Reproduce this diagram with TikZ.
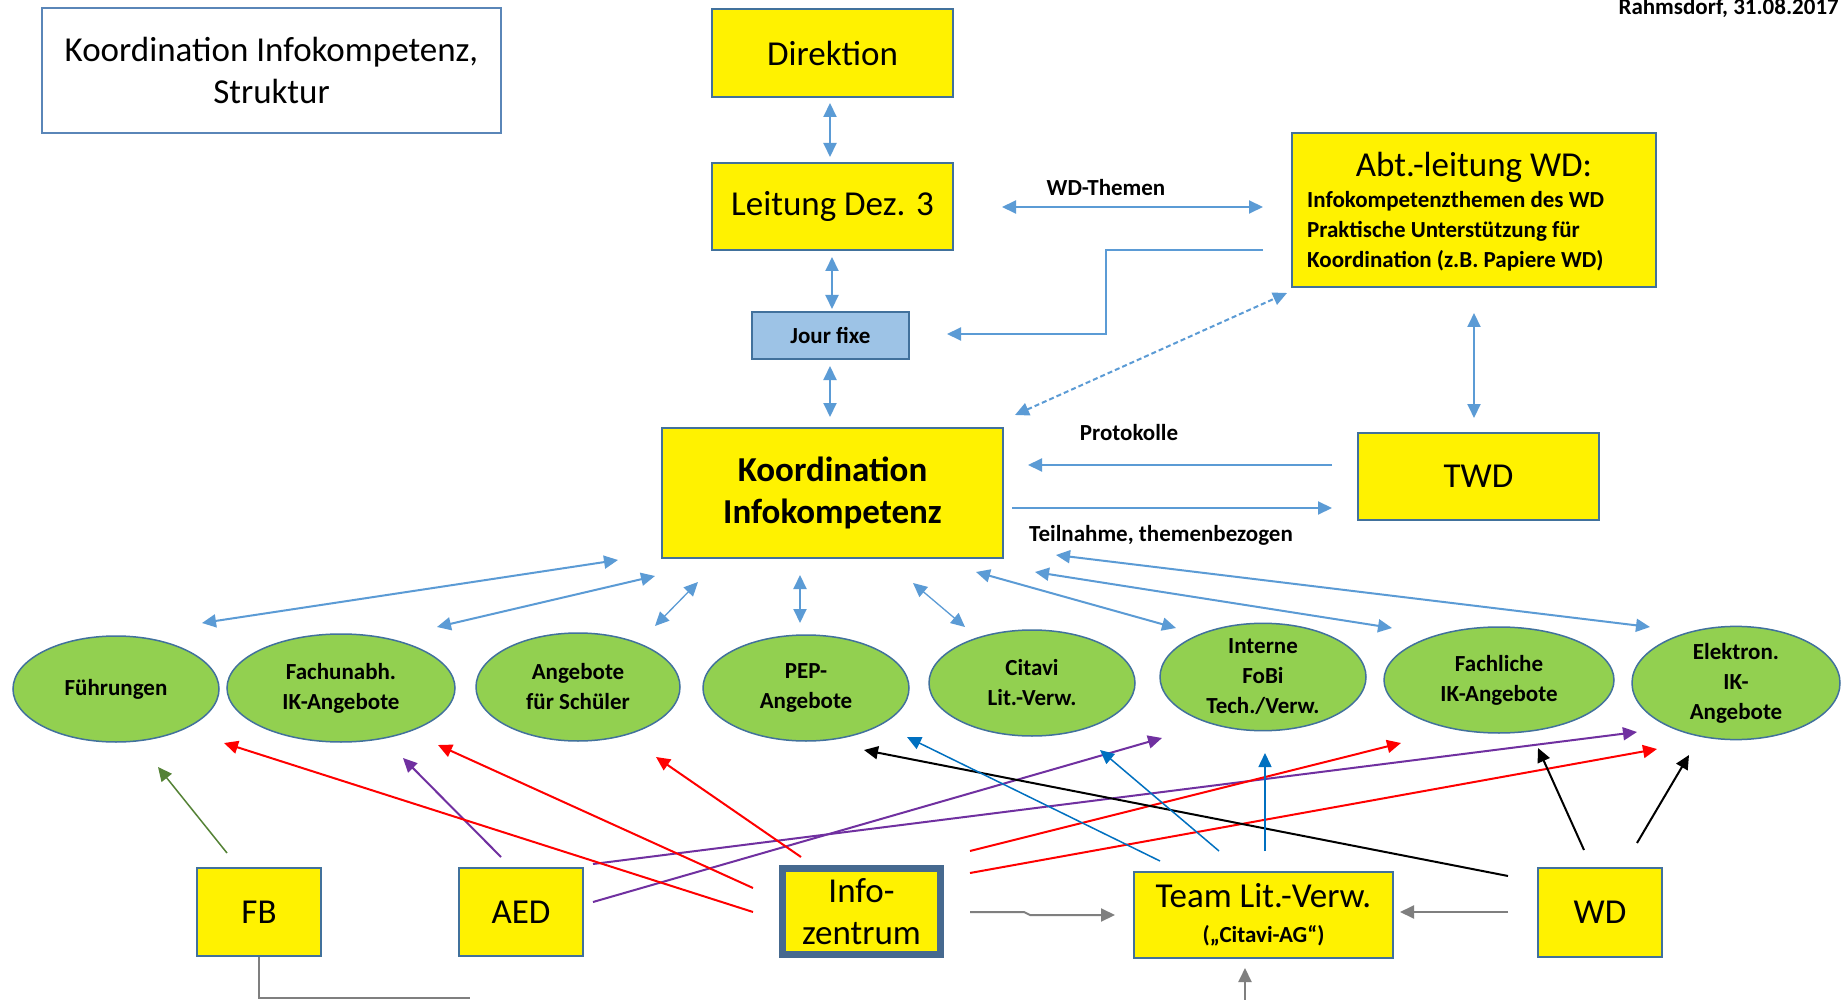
\documentclass[tikz,border=0pt]{standalone}
\usepackage{fontspec}
\setmainfont{Carlito}
\usetikzlibrary{arrows.meta,shapes.geometric}
\newcommand{\BigTxt}{\fontsize{35}{42}\selectfont}
\newcommand{\SmallTxt}{\fontsize{23}{30}\selectfont\bfseries}
\definecolor{bordc}{HTML}{41719C}
\definecolor{titlebord}{HTML}{5A86B8}
\definecolor{infobord}{HTML}{46698F}
\definecolor{jourfill}{HTML}{9DC3E6}
\definecolor{leaf}{HTML}{92D050}
\definecolor{arrblue}{HTML}{5B9BD5}
\definecolor{darkblue}{HTML}{0070C0}
\definecolor{arrred}{HTML}{FF0000}
\definecolor{arrpurple}{HTML}{7030A0}
\definecolor{arrgreen}{HTML}{548235}
\definecolor{arrgray}{HTML}{7F7F7F}
\begin{document}
\begin{tikzpicture}[x=1pt,y=-1pt,
  >={Triangle[length=14pt,width=13pt]},
  ybox/.style={draw=bordc, fill=yellow, line width=1.5pt, inner sep=0pt, align=center, font=\BigTxt},
  oval/.style={ellipse, draw=bordc, fill=leaf, line width=1.5pt, inner sep=0pt, align=center, font=\SmallTxt},
  lbl/.style={font=\SmallTxt, inner sep=0pt},
  bl/.style={draw=arrblue, line width=2pt},
  blt/.style={draw=arrblue, line width=1.3pt},
  dbl/.style={draw=darkblue, line width=1.5pt},
  rd/.style={draw=arrred, line width=2pt},
  pu/.style={draw=arrpurple, line width=2pt},
  bk/.style={draw=black, line width=2pt},
  gn/.style={draw=arrgreen, line width=1.5pt},
  gy/.style={draw=arrgray, line width=2pt}
]
\useasboundingbox (0,0) rectangle (1848,1000);
\fill[white] (0,0) rectangle (1848,1000);

% top boxes
\node[draw=titlebord, fill=white, line width=1.5pt, inner sep=0pt, align=center, font=\BigTxt,
      minimum width=459pt, minimum height=125pt] (title) at (271.5,70.5)
      {Koordination Infokompetenz,\\Struktur};
\node[ybox, minimum width=241pt, minimum height=88pt] (dir) at (832.5,53) {Direktion};
\node[ybox, minimum width=241pt, minimum height=87pt] (lei) at (832.5,206.5) {Leitung Dez. 3};
\node[draw=bordc, fill=jourfill, line width=1.5pt, inner sep=0pt, font=\SmallTxt,
      minimum width=157pt, minimum height=47pt] (jour) at (830.5,335.5) {Jour fixe};
\node[ybox, minimum width=364pt, minimum height=154pt] (abt) at (1474,210) {};
\node[font=\BigTxt, inner sep=0pt] (abtt) at (1474,167) {Abt.-leitung WD:};
\node[lbl, align=left, anchor=west] (abtb) at (1307,231)
      {Infokompetenzthemen des WD\\Praktische Unterstützung für\\Koordination (z.B. Papiere WD)};
\node[ybox, font=\BigTxt\bfseries, minimum width=341pt, minimum height=130pt] (koord) at (832.5,493)
      {Koordination\\Infokompetenz};
\node[ybox, minimum width=241pt, minimum height=87pt] (twd) at (1478.5,476.5) {TWD};
\node[lbl, anchor=base east] (date) at (1839,15) {Rahmsdorf, 31.08.2017};

% labels
\node[lbl] (wdth) at (1106,188) {WD-Themen};
\node[lbl] (prot) at (1129,433) {Protokolle};
\node[lbl] (teil) at (1161,535) {Teilnahme, themenbezogen};

% ellipses
\node[oval, minimum width=206pt, minimum height=106pt] (fueh) at (116,689) {Führungen};
\node[oval, minimum width=228pt, minimum height=108pt] (fach) at (341,688) {Fachunabh.\\IK-Angebote};
\node[oval, minimum width=204pt, minimum height=108pt] (schu) at (578,687) {Angebote\\für Schüler};
\node[oval, minimum width=206pt, minimum height=106pt] (pep) at (806,688) {PEP-\\Angebote};
\node[oval, minimum width=206pt, minimum height=106pt] (cit) at (1032,683) {Citavi\\Lit.-Verw.};
\node[oval, minimum width=206pt, minimum height=104pt] (intf) at (1263,677) {Interne\\FoBi\\Tech./Verw.};
\node[oval, minimum width=230pt, minimum height=106pt] (fachl) at (1499,680) {Fachliche\\IK-Angebote};
\node[oval, minimum width=208pt, minimum height=106pt] (elek) at (1736,683) {Elektron.\\IK-\\Angebote};

% bottom boxes
\node[ybox, minimum width=124pt, minimum height=88pt] (fb) at (259,912) {FB};
\node[ybox, minimum width=124pt, minimum height=88pt] (aed) at (521,912) {AED};
\node[draw=infobord, fill=yellow, line width=7pt, inner sep=0pt, align=center, font=\BigTxt,
      minimum width=158pt, minimum height=86pt] (info) at (861.5,911.5) {Info-\\zentrum};
\node[ybox, minimum width=259pt, minimum height=86pt] (team) at (1263.5,915)
      {Team Lit.-Verw.\\[-7pt]{\SmallTxt(„Citavi-AG“)}};
\node[ybox, minimum width=124pt, minimum height=89pt] (wd) at (1600,912.5) {WD};

% free ends
\coordinate (c1a) at (830,103); \coordinate (c1b) at (830,157);
\coordinate (c2a) at (832,257); \coordinate (c2b) at (832,309);
\coordinate (c3a) at (830,366); \coordinate (c3b) at (830,417);
\coordinate (wta) at (1002,207); \coordinate (wtb) at (1263,207);
\coordinate (ela) at (1263,250); \coordinate (elb) at (1106,250); \coordinate (elc) at (1106,334); \coordinate (eld) at (947,334);
\coordinate (dsa) at (1015,415); \coordinate (dsb) at (1287,293);
\coordinate (twa) at (1474,313); \coordinate (twb) at (1474,418);
\coordinate (pra) at (1332,465); \coordinate (prb) at (1028,465);
\coordinate (tea) at (1012,508); \coordinate (teb) at (1332,508);
\coordinate (k1) at (618,560); \coordinate (e1) at (202,623);
\coordinate (k2) at (655,576); \coordinate (e2) at (437,627);
\coordinate (k3) at (698,582); \coordinate (e3) at (655,626);
\coordinate (k4) at (800,575); \coordinate (e4) at (800,623);
\coordinate (k5) at (913,583); \coordinate (e5) at (965,627);
\coordinate (k6) at (976,572); \coordinate (e6) at (1176,628);
\coordinate (k7) at (1035,572); \coordinate (e7) at (1392,628);
\coordinate (k8) at (1056,555); \coordinate (e8) at (1650,627);

% blue connectors top
\draw[bl,<->] (c1a) -- (c1b);
\draw[bl,<->] (c2a) -- (c2b);
\draw[bl,<->] (c3a) -- (c3b);
\draw[bl,<->] (wta) -- (wtb);
\draw[bl,->] (ela) -- (elb) -- (elc) -- (eld);
\draw[bl,<->,dash pattern=on 5pt off 3pt] (dsa) -- (dsb);
\draw[bl,<->] (twa) -- (twb);
\draw[bl,->] (pra) -- (prb);
\draw[bl,->] (tea) -- (teb);

% koordination to ellipses
\draw[bl,<->] (k1) -- (e1);
\draw[bl,<->] (k2) -- (e2);
\draw[blt,<->] (k3) -- (e3);
\draw[bl,<->] (k4) -- (e4);
\draw[blt,<->] (k5) -- (e5);
\draw[bl,<->] (k6) -- (e6);
\draw[bl,<->] (k7) -- (e7);
\draw[bl,<->] (k8) -- (e8);

% bottom free ends
\coordinate (g1) at (227,853); \coordinate (g2) at (158,767);
\coordinate (p1a) at (501,857); \coordinate (p1b) at (403,758);
\coordinate (p2a) at (593,864); \coordinate (p2b) at (1637,732);
\coordinate (p3a) at (593,902); \coordinate (p3b) at (1162,738);
\coordinate (r1a) at (753,912); \coordinate (r1b) at (224,743);
\coordinate (r2a) at (753,888); \coordinate (r2b) at (438,745);
\coordinate (r3a) at (801,857); \coordinate (r3b) at (656,757);
\coordinate (r4a) at (970,851); \coordinate (r4b) at (1401,743);
\coordinate (r5a) at (970,873); \coordinate (r5b) at (1657,749);
\coordinate (b1a) at (1508,876); \coordinate (b1b) at (864,750);
\coordinate (b2a) at (1584,850); \coordinate (b2b) at (1538,748);
\coordinate (b3a) at (1637,843); \coordinate (b3b) at (1689,755);
\coordinate (d1a) at (1160,861); \coordinate (d1b) at (907,737);
\coordinate (d2a) at (1219,851); \coordinate (d2b) at (1100,750);
\coordinate (d3a) at (1265,851); \coordinate (d3b) at (1265,753);
\coordinate (y1a) at (970,912); \coordinate (y1b) at (1024,912); \coordinate (y1c) at (1030,915); \coordinate (y1d) at (1115,915);
\coordinate (y2a) at (1508,912); \coordinate (y2b) at (1400,912);
\coordinate (y3a) at (1245,1000); \coordinate (y3b) at (1245,968);
\coordinate (fba) at (259,998); \coordinate (fbb) at (470,998);

\draw[gn,->] (g1) -- (g2);
\draw[pu,->] (p1a) -- (p1b);
\draw[pu,->] (p2a) -- (p2b);
\draw[pu,->] (p3a) -- (p3b);
\draw[rd,->] (r1a) -- (r1b);
\draw[rd,->] (r2a) -- (r2b);
\draw[rd,->] (r3a) -- (r3b);
\draw[rd,->] (r4a) -- (r4b);
\draw[rd,->] (r5a) -- (r5b);
\draw[bk,->] (b1a) -- (b1b);
\draw[bk,->] (b2a) -- (b2b);
\draw[bk,->] (b3a) -- (b3b);
\draw[dbl,->] (d1a) -- (d1b);
\draw[dbl,->] (d2a) -- (d2b);
\draw[dbl,->] (d3a) -- (d3b);
\draw[gy,->] (y1a) -- (y1b) -- (y1c) -- (y1d);
\draw[gy,->] (y2a) -- (y2b);
\draw[gy,->] (y3a) -- (y3b);
\draw[draw=arrgray, line width=1.5pt] (fb.south) -- (fba) -- (fbb);
\end{tikzpicture}
\end{document}
